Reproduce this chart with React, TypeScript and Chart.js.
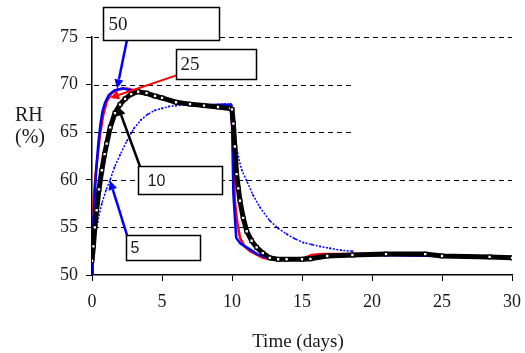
import React, { useEffect, useRef } from "react";
import { Chart, registerables } from "chart.js";

Chart.register(...registerables);

// ---- data ----
const t5 = [0, 0.1, 0.25, 0.4, 0.7, 1.0, 1.3, 1.6, 2.0, 2.5, 3.0, 3.5, 4.0, 4.5, 5.0, 5.5, 6.0, 6.5, 7.0, 8.0, 9.0, 9.9, 10.0, 10.1, 10.25, 10.45, 10.7, 11.05, 11.5, 12.0, 12.7, 13.3, 13.9, 14.5, 15.1, 15.7, 16.3, 17.0, 17.8, 18.6];
const rh5 = [50, 52.5, 54.3, 55.6, 57.5, 58.9, 60.0, 61.3, 62.6, 64.1, 65.4, 66.3, 66.9, 67.3, 67.5, 67.7, 67.8, 67.9, 67.9, 67.9, 67.9, 68.0, 67.8, 66.0, 64.2, 62.4, 61.0, 59.9, 58.4, 57.1, 55.7, 54.9, 54.3, 53.8, 53.4, 53.2, 53.0, 52.8, 52.6, 52.5];

const t10 = [0, 0.1, 0.2, 0.33, 0.5, 0.7, 0.9, 1.05, 1.3, 1.64, 2.0, 2.36, 2.8, 3.3, 3.9, 4.5, 5.0, 6.0, 7.0, 8.0, 9.0, 9.86, 10.0, 10.1, 10.2, 10.33, 10.45, 10.57, 10.8, 11.05, 11.4, 11.76, 12.2, 12.7, 13.3, 13.9, 15.0, 15.6, 16.8, 18.6, 21.0, 23.8, 25.0, 28.4, 30.0];
const rh10 = [51.5, 53, 55, 56.8, 59, 61, 62.7, 63.8, 65.5, 67, 67.9, 68.5, 69.0, 69.25, 69.1, 68.8, 68.6, 68.15, 67.95, 67.8, 67.65, 67.5, 67.4, 65.9, 63.5, 60.6, 59.1, 57.8, 56.0, 54.6, 53.6, 52.9, 52.3, 51.8, 51.65, 51.65, 51.65, 51.7, 52.0, 52.1, 52.2, 52.2, 52.0, 51.9, 51.8];

const t25 = [0, 0.05, 0.12, 0.25, 0.4, 0.57, 0.8, 1.05, 1.4, 1.86, 2.5, 3.0, 4.0, 5.0, 6.0, 7.0, 8.0, 9.0, 9.9, 10.05, 10.1, 10.2, 10.35, 10.57, 10.9, 11.3, 12.2, 13.0, 14.0, 15.0, 15.7, 16.5, 18.0, 20.0, 25.0, 30.0];
const rh25 = [52, 55, 58, 60.5, 62.5, 64.7, 66.8, 68.2, 69.1, 69.5, 69.6, 69.4, 69.0, 68.6, 68.2, 67.9, 67.7, 67.6, 67.5, 65, 63.4, 57.8, 55.8, 53.9, 53.0, 52.5, 51.8, 51.6, 51.6, 51.7, 52.1, 52.2, 52.2, 52.2, 52.0, 51.8];

const t50 = [0, 0.05, 0.1, 0.2, 0.3, 0.45, 0.6, 0.75, 0.93, 1.2, 1.6, 2.2, 3.0, 4.0, 6.0, 8.0, 9.5, 9.9, 10.0, 10.1, 10.3, 10.6, 11.05, 11.8, 12.5, 13.5, 16.0, 20.0, 25.0, 30.0];
const rh50 = [50, 53, 56, 58.5, 61, 63.8, 65.8, 67.2, 68.1, 68.9, 69.4, 69.6, 69.3, 68.9, 68.1, 67.8, 67.9, 67.8, 66, 58.5, 53.9, 53.3, 52.9, 52.2, 51.8, 51.6, 51.9, 52.1, 52.0, 51.8];

const seriesLabels = ["5", "10", "25", "50"];
const xTitle = "Time (days)";
const yTitleLines = ["RH", "(%)"];
const gridFull = [55, 60, 75];
const gridShort = [65, 70];
const gridShortEnd = 18.6;

// annotation call-outs (data coordinates)
const callouts = [
  { label: "50", box: [0.79, 9.07, 74.7, 78.1], from: [2.5, 74.7], to: [1.79, 69.6], color: "#0000ff", width: 2.5, font: '19px "Liberation Serif"', inset: 5 },
  { label: "25", box: [6.0, 11.71, 70.6, 73.75], from: [6.29, 71.1], to: [1.29, 68.6], color: "#ff0000", width: 2, font: '19px "Liberation Serif"', inset: 4 },
  { label: "10", box: [3.29, 9.29, 58.55, 61.4], from: [3.43, 61.4], to: [1.86, 67.7], color: "#000000", width: 2.5, font: '16px "Liberation Sans"', inset: 9 },
  { label: "5", box: [2.43, 7.71, 51.6, 54.2], from: [2.5, 54.2], to: [1.29, 59.9], color: "#0000ff", width: 2.5, font: '16px "Liberation Sans"', inset: 4 },
];

const pts = (xs: number[], ys: number[]) => xs.map((x, i) => ({ x, y: ys[i] }));

const overlayPlugin = {
  id: "overlay",
  beforeDatasetsDraw(chart: any) {
    const { ctx, chartArea, scales } = chart;
    const x = scales.x, y = scales.y;
    ctx.save();
    ctx.strokeStyle = "#000";
    ctx.lineWidth = 1;
    ctx.setLineDash([5, 4]);
    const line = (v: number, endX: number) => {
      const py = Math.round(y.getPixelForValue(v)) + 0.5;
      ctx.beginPath();
      ctx.moveTo(chartArea.left + 2, py);
      ctx.lineTo(endX, py);
      ctx.stroke();
    };
    gridFull.forEach((v) => line(v, chartArea.right));
    gridShort.forEach((v) => line(v, x.getPixelForValue(gridShortEnd)));
    ctx.restore();
  },
  afterDatasetsDraw(chart: any) {
    const { ctx, chartArea, scales } = chart;
    const x = scales.x, y = scales.y;
    ctx.save();
    // arrows
    callouts.forEach((c) => {
      const x0 = x.getPixelForValue(c.from[0]);
      const y0 = y.getPixelForValue(c.from[1]);
      const x1 = x.getPixelForValue(c.to[0]);
      const y1 = y.getPixelForValue(c.to[1]);
      const ang = Math.atan2(y1 - y0, x1 - x0);
      const hl = 9, hw = 4.5;
      const bx = x1 - hl * Math.cos(ang), by = y1 - hl * Math.sin(ang);
      ctx.strokeStyle = c.color;
      ctx.fillStyle = c.color;
      ctx.lineWidth = c.width;
      ctx.setLineDash([]);
      ctx.beginPath();
      ctx.moveTo(x0, y0);
      ctx.lineTo(bx, by);
      ctx.stroke();
      ctx.beginPath();
      ctx.moveTo(x1, y1);
      ctx.lineTo(bx + hw * Math.sin(ang), by - hw * Math.cos(ang));
      ctx.lineTo(bx - hw * Math.sin(ang), by + hw * Math.cos(ang));
      ctx.closePath();
      ctx.fill();
    });
    // boxes
    callouts.forEach((c) => {
      const l = Math.round(x.getPixelForValue(c.box[0])) + 0.5;
      const r = Math.round(x.getPixelForValue(c.box[1])) + 0.5;
      const b = Math.round(y.getPixelForValue(c.box[2])) + 0.5;
      const t = Math.round(y.getPixelForValue(c.box[3])) + 0.5;
      ctx.fillStyle = "#fff";
      ctx.fillRect(l, t, r - l, b - t);
      ctx.strokeStyle = "#000";
      ctx.lineWidth = 1.5;
      ctx.strokeRect(l, t, r - l, b - t);
      ctx.fillStyle = "#1a1a1a";
      ctx.font = c.font;
      ctx.textAlign = "left";
      ctx.textBaseline = "middle";
      ctx.fillText(c.label, l + c.inset, (t + b) / 2 + 1);
    });
    // axis titles
    ctx.fillStyle = "#1a1a1a";
    ctx.font = '20px "Liberation Serif"';
    ctx.textAlign = "left";
    ctx.textBaseline = "middle";
    const ty = y.getPixelForValue(65);
    ctx.fillText(yTitleLines[0], chartArea.left - 77, ty - 16);
    ctx.fillText(yTitleLines[1], chartArea.left - 77, ty + 6);
    ctx.font = '19px "Liberation Serif"';
    ctx.textAlign = "center";
    ctx.fillText(xTitle, 298, chartArea.bottom + 67);
    ctx.restore();
  },
};

export default function App() {
  const ref = useRef<HTMLCanvasElement | null>(null);
  useEffect(() => {
    if (!ref.current) return;
    const chart = new Chart(ref.current, {
      type: "line",
      data: {
        datasets: [
          {
            label: seriesLabels[1],
            data: pts(t10, rh10),
            borderColor: "#000",
            borderWidth: 5,
            pointStyle: "rect",
            pointRadius: 2.5,
            pointBackgroundColor: "#fff",
            pointBorderColor: "#000",
            pointBorderWidth: 1.2,
            order: 0,
          },
          {
            label: seriesLabels[0],
            data: pts(t5, rh5),
            borderColor: "#0000ff",
            borderWidth: 1.5,
            borderDash: [2, 1.5],
            pointStyle: "rect",
            pointRadius: 1.2,
            pointBackgroundColor: "#0000ff",
            pointBorderColor: "#0000ff",
            pointBorderWidth: 0,
            order: 1,
          },
          {
            label: seriesLabels[3],
            data: pts(t50, rh50),
            borderColor: "#0000ff",
            borderWidth: 2.5,
            pointRadius: 0,
            order: 2,
          },
          {
            label: seriesLabels[2],
            data: pts(t25, rh25),
            borderColor: "#ff0000",
            borderWidth: 2.5,
            pointRadius: 0,
            order: 3,
          },
        ],
      },
      options: {
        animation: false,
        responsive: false,
        maintainAspectRatio: false,
        events: [],
        layout: { padding: { left: 0, right: 13, top: 37, bottom: 0 } },
        plugins: { legend: { display: false }, tooltip: { enabled: false }, title: { display: false } },
        elements: { line: { tension: 0 } },
        scales: {
          x: {
            type: "linear",
            min: 0,
            max: 30,
            afterFit: (s: any) => { s.height = 78; s.paddingLeft = 0; s.paddingRight = 0; },
            ticks: { stepSize: 5, font: { family: "Liberation Serif", size: 18 }, color: "#1a1a1a", padding: 10 },
            grid: { drawOnChartArea: false, drawTicks: true, tickLength: 6, color: "#000", lineWidth: 1 },
            border: { color: "#000", width: 1.5 },
          },
          y: {
            type: "linear",
            min: 50,
            max: 75,
            afterFit: (s: any) => { s.width = 92; s.paddingTop = 0; s.paddingBottom = 0; },
            ticks: { stepSize: 5, font: { family: "Liberation Serif", size: 18 }, color: "#1a1a1a", padding: 8 },
            grid: { drawOnChartArea: false, drawTicks: true, tickLength: 6, color: "#000", lineWidth: 1 },
            border: { color: "#000", width: 1.5 },
          },
        },
      },
      plugins: [overlayPlugin],
    } as any);
    return () => chart.destroy();
  }, []);
  return (
    <div style={{ position: "absolute", left: 0, top: 0, width: 525, height: 353, background: "#fff" }}>
      <canvas ref={ref} width={525} height={353} style={{ display: "block", width: 525, height: 353 }} />
    </div>
  );
}
